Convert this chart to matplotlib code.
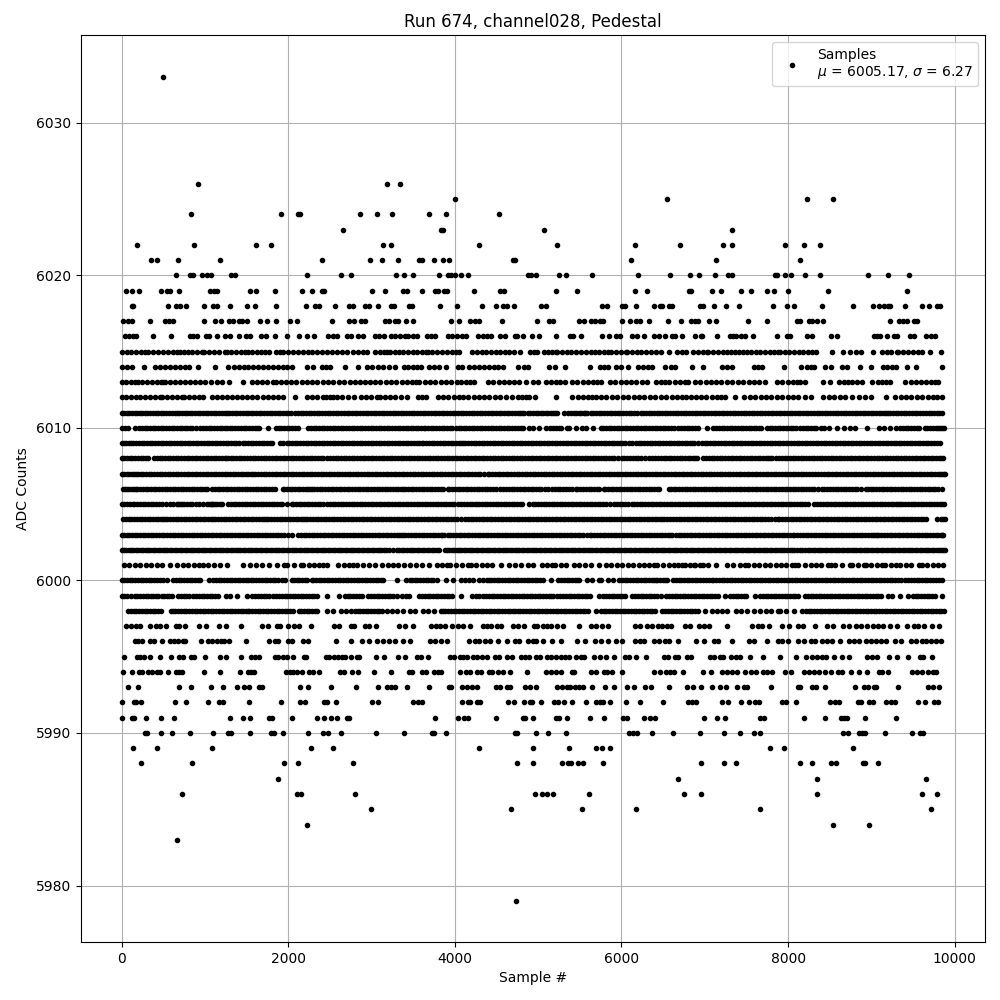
import matplotlib
matplotlib.use("Agg")
import matplotlib.pyplot as plt

# sample numbers, one list per ADC level
adc_6033 = [496]
adc_6026 = [920, 3188, 3344]
adc_6025 = [4000, 6552, 8224, 8536]
adc_6024 = [836, 1916, 2120, 2140, 2864, 3068, 3248, 3684, 3888, 4524]
adc_6023 = [2660, 3832, 3856, 5076, 7324]
adc_6022 = [188, 872, 1616, 1796, 3140, 3236, 4284, 5232, 6168, 6704, 7216, 7324, 7960, 8188, 8380]
adc_6021 = [356, 428, 680, 1184, 2408, 2984, 3128, 3320, 3564, 3600, 3744, 3852, 3924, 4692, 4716, 6120, 7132, 8140]
adc_6020 = [656, 820, 860, 968, 1028, 1076, 1316, 1364, 2228, 2636, 2756, 3296, 3388, 3492, 3804, 3912, 3948, 4000,
            4068, 4152, 4872, 4908, 4980, 5256, 5340, 5652, 6204, 6588, 6820, 6928, 7120, 7276, 7324, 7840, 7864,
            7960, 8032, 8200, 8380, 8956, 9196, 9448]
adc_6019 = [56, 120, 212, 476, 548, 584, 692, 1064, 1112, 1148, 1544, 1616, 1844, 2168, 2288, 2408, 2432, 3008, 3164,
            3376, 3420, 3600, 3756, 3792, 3864, 3900, 4224, 4536, 4584, 5220, 5472, 6164, 6312, 6808, 6832, 7084,
            7192, 7432, 7552, 7744, 7828, 7996, 8476, 9424]
adc_6018 = [120, 140, 560, 656, 704, 776, 992, 1100, 1148, 1304, 1508, 1604, 1856, 2216, 2324, 2372, 2564, 2732, 2780,
            2924, 2972, 3080, 3236, 3268, 3444, 3480, 3816, 4020, 4320, 4488, 4572, 4620, 4704, 5040, 5100, 5772,
            5832, 6012, 6048, 6180, 6396, 6468, 6492, 6576, 6612, 6940, 6976, 7108, 7252, 7408, 7816, 7984, 8068,
            8404, 8776, 9016, 9088, 9148, 9196, 9220, 9400, 9604, 9688, 9784, 9820]
adc_6017 = [20, 80, 120, 344, 524, 572, 620, 984, 1124, 1196, 1292, 1340, 1412, 1448, 1508, 1664, 1748, 1856, 2024,
            2108, 2528, 2732, 2792, 2876, 2920, 3164, 3212, 3284, 3320, 3408, 3492, 3948, 4044, 4176, 4236, 4284,
            4560, 4992, 5136, 5184, 5496, 5556, 5640, 5688, 5748, 5784, 6012, 6108, 6180, 6228, 6336, 6564, 6712,
            6832, 6880, 6916, 7048, 7132, 7516, 7744, 8104, 8140, 8248, 8284, 8344, 8416, 9220, 9328, 9376, 9424,
            9508, 9544]
adc_6016 = [44, 92, 140, 176, 380, 596, 824, 860, 908, 1016, 1052, 1140, 1244, 1304, 1412, 1496, 1540, 1676, 1736,
            1844, 1988, 2132, 2228, 2312, 2480, 2540, 2588, 2708, 2756, 2840, 2900, 3044, 3092, 3152, 3232, 3280,
            3340, 3400, 3432, 3492, 3540, 3660, 3708, 3756, 3912, 3960, 4020, 4080, 4128, 4272, 4332, 4380, 4428,
            4536, 4596, 4716, 4740, 4812, 4920, 5016, 5220, 5388, 5424, 5520, 5772, 5856, 5940, 5988, 6132, 6192,
            6276, 6396, 6456, 6528, 6612, 6648, 6724, 6880, 6952, 6964, 7144, 7300, 7336, 7372, 7432, 7480, 7576,
            7864, 7984, 8020, 8224, 8284, 8512, 8584, 9028, 9064, 9100, 9184, 9268, 9304, 9460, 9508, 9652, 9712,
            9760]
adc_6015 = [0, 62, 118, 176, 230, 280, 320, 380, 440, 498, 560, 612, 668, 700, 744, 792, 850, 905, 960, 992, 1050,
            1105, 1168, 1240, 1260, 1318, 1375, 1430, 1480, 1512, 1568, 1620, 1675, 1720, 1772, 1848, 1895, 1932,
            2000, 2060, 2120, 2180, 2235, 2290, 2350, 2410, 2465, 2520, 2582, 2640, 2700, 2780, 2840, 2895, 2948,
            3040, 3100, 3150, 3188, 3220, 3280, 3330, 3380, 3440, 3492, 3548, 3600, 3652, 3672, 3730, 3790, 3845,
            3905, 3960, 4012, 4044, 4204, 4260, 4320, 4378, 4430, 4490, 4545, 4600, 4655, 4712, 4776, 4904, 4950,
            4992, 5076, 5124, 5170, 5212, 5232, 5290, 5345, 5400, 5458, 5512, 5570, 5632, 5680, 5732, 5790, 5835,
            5872, 5932, 5990, 6052, 6072, 6130, 6185, 6240, 6300, 6355, 6410, 6472, 6572, 6672, 6722, 6772, 6864,
            6920, 6975, 7024, 7044, 7100, 7160, 7215, 7270, 7320, 7364, 7412, 7460, 7504, 7556, 7610, 7665, 7720,
            7780, 7830, 7884, 7904, 7960, 8015, 8070, 8130, 8185, 8240, 8290, 8332, 8528, 8660, 8740, 8812, 8872,
            9016, 9132, 9184, 9240, 9304, 9324, 9380, 9440, 9500, 9564, 9604, 9708, 9832]
adc_6014 = [0, 60, 120, 272, 400, 462, 520, 585, 640, 700, 755, 812, 912, 1124, 1280, 1348, 1405, 1465, 1520, 1582,
            1640, 1700, 1760, 1820, 1880, 1940, 1980, 2040, 2228, 2300, 2400, 2452, 2500, 2684, 2840, 2948, 3010,
            3075, 3140, 3212, 3280, 3384, 3440, 3500, 3550, 3592, 3684, 3750, 3812, 3888, 4032, 4080, 4172, 4232,
            4290, 4352, 4410, 4465, 4512, 4572, 4752, 4824, 4872, 5136, 5208, 5328, 5628, 5748, 5792, 5844, 5932,
            5992, 6084, 6204, 6262, 6320, 6372, 6528, 6590, 6644, 6844, 6976, 7204, 7265, 7324, 7588, 7640, 7684,
            7948, 8152, 8224, 8270, 8316, 8440, 8512, 8644, 8704, 8860, 8992, 9136, 9190, 9244, 9292, 9424, 9532,
            9844]
adc_6013 = [0, 58, 115, 160, 200, 240, 300, 360, 425, 470, 500, 520, 580, 640, 700, 760, 820, 880, 945, 1000, 1075,
            1140, 1208, 1292, 1456, 1560, 1625, 1690, 1750, 1812, 1848, 1910, 1970, 2035, 2095, 2160, 2220, 2285,
            2345, 2420, 2480, 2540, 2610, 2670, 2740, 2800, 2860, 2920, 2980, 3045, 3105, 3170, 3235, 3295, 3360,
            3420, 3480, 3532, 3572, 3640, 3700, 3765, 3830, 3890, 3955, 4020, 4075, 4132, 4180, 4232, 4392, 4460,
            4525, 4590, 4655, 4712, 4772, 4852, 4932, 5004, 5092, 5150, 5210, 5264, 5328, 5412, 5472, 5535, 5600,
            5660, 5710, 5752, 5860, 5925, 5990, 6050, 6115, 6180, 6250, 6312, 6412, 6470, 6525, 6572, 6644, 6700,
            6760, 6804, 6884, 6945, 7010, 7075, 7140, 7200, 7265, 7330, 7395, 7460, 7525, 7590, 7655, 7724, 7864,
            7930, 7995, 8060, 8105, 8144, 8200, 8424, 8504, 8612, 8670, 8724, 8764, 8824, 8884, 9012, 9075, 9130,
            9180, 9224, 9404, 9470, 9535, 9600, 9660, 9720, 9765, 9804]
adc_6012 = [0, 55, 112, 170, 225, 280, 340, 400, 460, 480, 540, 600, 660, 720, 748, 810, 870, 925, 972, 1080, 1140,
            1200, 1265, 1325, 1385, 1445, 1510, 1570, 1630, 1695, 1755, 1815, 1880, 1940, 2084, 2220, 2285, 2350,
            2420, 2452, 2500, 2540, 2580, 2650, 2720, 2792, 2868, 2930, 2995, 3060, 3100, 3160, 3220, 3285, 3350,
            3420, 3552, 3605, 3652, 3792, 3855, 3920, 3985, 4045, 4100, 4152, 4224, 4285, 4350, 4415, 4480, 4545,
            4610, 4680, 4752, 4800, 4850, 4892, 4964, 5220, 5412, 5475, 5540, 5600, 5652, 5692, 5755, 5820, 5885,
            5950, 6015, 6080, 6145, 6210, 6275, 6340, 6405, 6470, 6540, 6612, 6672, 6732, 6780, 6840, 6900, 6960,
            7020, 7085, 7150, 7200, 7244, 7364, 7476, 7540, 7605, 7670, 7735, 7800, 7865, 7930, 7995, 8060, 8125,
            8200, 8276, 8424, 8490, 8555, 8620, 8684, 8764, 8852, 8925, 8996, 9172, 9284, 9350, 9415, 9480, 9545,
            9610, 9675, 9735, 9790, 9844]
adc_6011 = [0, 60, 125, 185, 250, 310, 375, 440, 500, 565, 640, 660, 725, 785, 850, 915, 975, 1040, 1105, 1170, 1240,
            1260, 1325, 1390, 1455, 1520, 1580, 1645, 1710, 1775, 1840, 1905, 1970, 2035, 2120, 2180, 2245, 2310,
            2375, 2440, 2505, 2570, 2635, 2700, 2765, 2830, 2895, 2960, 3025, 3090, 3155, 3220, 3285, 3350, 3415,
            3480, 3540, 3580, 3612, 3680, 3745, 3810, 3875, 3940, 4005, 4070, 4135, 4200, 4265, 4330, 4395, 4460,
            4525, 4590, 4655, 4720, 4785, 4832, 4872, 4940, 5000, 5060, 5120, 5180, 5232, 5312, 5364, 5425, 5490,
            5545, 5592, 5632, 5695, 5760, 5825, 5890, 5955, 6020, 6085, 6150, 6232, 6260, 6325, 6390, 6455, 6520,
            6585, 6650, 6715, 6780, 6845, 6910, 6975, 7040, 7105, 7170, 7235, 7304, 7336, 7400, 7465, 7530, 7595,
            7660, 7725, 7790, 7855, 7920, 7985, 8050, 8115, 8180, 8245, 8310, 8375, 8440, 8505, 8570, 8635, 8700,
            8765, 8830, 8895, 8960, 9025, 9090, 9150, 9204, 9224, 9290, 9355, 9420, 9485, 9550, 9624, 9652, 9720,
            9785, 9844]
adc_6010 = [0, 40, 80, 164, 212, 275, 340, 405, 470, 535, 600, 665, 730, 780, 820, 848, 895, 940, 980, 1045, 1110,
            1175, 1240, 1300, 1360, 1400, 1465, 1530, 1595, 1652, 1752, 1852, 1915, 1980, 2045, 2120, 2240, 2305,
            2370, 2435, 2500, 2565, 2630, 2695, 2760, 2825, 2890, 2955, 3020, 3085, 3150, 3215, 3280, 3345, 3410,
            3470, 3535, 3590, 3632, 3644, 3710, 3775, 3840, 3905, 3970, 4044, 4072, 4135, 4200, 4265, 4330, 4395,
            4460, 4525, 4590, 4655, 4720, 4792, 4812, 4892, 4932, 5010, 5092, 5144, 5210, 5280, 5352, 5372, 5450,
            5532, 5572, 5660, 5752, 5780, 5845, 5910, 5975, 6040, 6105, 6170, 6235, 6300, 6365, 6430, 6495, 6560,
            6632, 6684, 6750, 6815, 6880, 6924, 7024, 7104, 7170, 7235, 7300, 7365, 7430, 7495, 7560, 7620, 7676,
            7744, 7810, 7875, 7940, 8005, 8064, 8092, 8144, 8210, 8275, 8340, 8390, 8436, 8496, 8584, 8672, 8740,
            8804, 8944, 9092, 9156, 9225, 9292, 9344, 9410, 9475, 9544, 9572, 9640, 9705, 9770, 9825, 9876]
adc_6009 = [10, 50, 92, 108, 175, 240, 305, 370, 435, 500, 565, 630, 695, 760, 825, 890, 955, 1020, 1085, 1150, 1215,
            1280, 1345, 1410, 1452, 1484, 1550, 1615, 1680, 1745, 1810, 1900, 1940, 1980, 2045, 2110, 2175, 2240,
            2305, 2370, 2435, 2500, 2565, 2630, 2695, 2760, 2825, 2890, 2955, 3020, 3085, 3150, 3215, 3280, 3345,
            3410, 3475, 3540, 3604, 3620, 3690, 3755, 3820, 3885, 3950, 4015, 4072, 4092, 4160, 4225, 4290, 4355,
            4420, 4485, 4550, 4615, 4680, 4745, 4810, 4875, 4940, 5005, 5070, 5135, 5200, 5265, 5330, 5395, 5460,
            5525, 5590, 5655, 5720, 5785, 5850, 5915, 5980, 6045, 6132, 6172, 6240, 6305, 6370, 6435, 6500, 6565,
            6630, 6695, 6760, 6825, 6876, 6924, 6964, 7030, 7095, 7160, 7225, 7290, 7355, 7420, 7485, 7550, 7615,
            7680, 7745, 7810, 7875, 7940, 8005, 8070, 8135, 8200, 8265, 8330, 8395, 8460, 8525, 8590, 8655, 8720,
            8784, 8812, 8880, 8945, 9010, 9075, 9140, 9205, 9270, 9332, 9356, 9425, 9490, 9555, 9620, 9685, 9750,
            9824]
adc_6008 = [0, 65, 130, 195, 260, 320, 392, 455, 520, 585, 650, 715, 780, 845, 910, 975, 1040, 1105, 1170, 1235,
            1280, 1340, 1405, 1470, 1540, 1572, 1640, 1705, 1770, 1835, 1900, 1965, 2030, 2095, 2160, 2225, 2290,
            2355, 2420, 2468, 2535, 2600, 2665, 2730, 2795, 2860, 2925, 2990, 3055, 3120, 3185, 3250, 3315, 3380,
            3445, 3510, 3575, 3640, 3705, 3770, 3835, 3900, 3965, 4030, 4095, 4160, 4225, 4290, 4355, 4420, 4485,
            4550, 4615, 4680, 4745, 4810, 4875, 4940, 5005, 5070, 5135, 5200, 5265, 5330, 5395, 5460, 5525, 5590,
            5655, 5720, 5785, 5850, 5915, 6004, 6036, 6105, 6170, 6235, 6332, 6364, 6440, 6505, 6572, 6596, 6665,
            6730, 6795, 6860, 6904, 6984, 7050, 7115, 7180, 7245, 7310, 7375, 7440, 7505, 7570, 7635, 7700, 7760,
            7804, 7856, 7925, 7990, 8055, 8120, 8185, 8250, 8315, 8380, 8445, 8510, 8575, 8640, 8705, 8770, 8835,
            8900, 8965, 9030, 9095, 9160, 9225, 9290, 9355, 9420, 9485, 9550, 9615, 9680, 9745, 9810, 9864]
adc_6007 = [0, 60, 120, 175, 228, 260, 325, 390, 455, 520, 585, 650, 715, 780, 845, 910, 975, 1040, 1105, 1170, 1235,
            1300, 1365, 1430, 1495, 1548, 1572, 1640, 1705, 1770, 1835, 1900, 1965, 2030, 2095, 2160, 2225, 2290,
            2355, 2420, 2485, 2550, 2615, 2680, 2745, 2810, 2875, 2940, 3005, 3070, 3135, 3200, 3265, 3330, 3395,
            3460, 3525, 3590, 3655, 3720, 3785, 3850, 3915, 3980, 4045, 4110, 4175, 4240, 4305, 4392, 4412, 4480,
            4545, 4610, 4675, 4740, 4805, 4870, 4935, 5000, 5065, 5130, 5195, 5260, 5325, 5390, 5455, 5520, 5585,
            5650, 5715, 5780, 5845, 5910, 5975, 6040, 6105, 6170, 6235, 6300, 6365, 6430, 6495, 6560, 6625, 6690,
            6755, 6820, 6885, 6950, 7015, 7080, 7145, 7210, 7275, 7340, 7405, 7470, 7535, 7600, 7665, 7730, 7795,
            7860, 7925, 7990, 8055, 8120, 8185, 8250, 8324, 8364, 8430, 8495, 8560, 8625, 8690, 8755, 8820, 8885,
            8950, 9015, 9080, 9145, 9210, 9275, 9340, 9405, 9470, 9535, 9600, 9665, 9730, 9795, 9850, 9884]
adc_6006 = [12, 60, 120, 172, 188, 255, 320, 385, 450, 515, 580, 645, 710, 775, 840, 905, 970, 1030, 1080, 1120, 1185,
            1250, 1315, 1380, 1445, 1510, 1575, 1640, 1705, 1770, 1835, 1932, 1948, 2015, 2080, 2145, 2210, 2260,
            2280, 2345, 2410, 2475, 2540, 2605, 2670, 2735, 2800, 2865, 2930, 2995, 3060, 3125, 3190, 3255, 3320,
            3380, 3404, 3470, 3535, 3600, 3665, 3730, 3795, 3860, 3912, 3932, 4000, 4065, 4130, 4195, 4260, 4325,
            4390, 4455, 4540, 4580, 4650, 4715, 4780, 4845, 4910, 4975, 5040, 5124, 5164, 5235, 5300, 5365, 5452,
            5472, 5540, 5605, 5670, 5735, 5792, 5804, 5870, 5935, 6000, 6065, 6130, 6195, 6260, 6325, 6390, 6455,
            6572, 6592, 6660, 6725, 6790, 6855, 6920, 6985, 7050, 7124, 7144, 7210, 7275, 7340, 7405, 7470, 7535,
            7600, 7665, 7730, 7795, 7860, 7925, 7990, 8055, 8120, 8185, 8250, 8315, 8404, 8436, 8505, 8570, 8635,
            8700, 8765, 8830, 8932, 8956, 9025, 9090, 9155, 9220, 9285, 9350, 9415, 9480, 9545, 9610, 9675, 9740,
            9796, 9852]
adc_6005 = [0, 65, 132, 152, 220, 285, 350, 415, 480, 580, 612, 660, 700, 720, 785, 850, 928, 972, 1020, 1068, 1100,
            1150, 1200, 1280, 1345, 1410, 1475, 1540, 1605, 1670, 1735, 1800, 1865, 1930, 2040, 2060, 2125, 2190,
            2255, 2320, 2385, 2460, 2500, 2565, 2630, 2695, 2760, 2825, 2890, 2955, 3020, 3085, 3150, 3215, 3280,
            3345, 3410, 3475, 3540, 3605, 3670, 3735, 3800, 3865, 3930, 3995, 4072, 4112, 4180, 4240, 4292, 4324,
            4390, 4455, 4520, 4585, 4650, 4715, 4780, 4804, 4892, 4932, 5000, 5065, 5130, 5195, 5260, 5325, 5390,
            5455, 5520, 5585, 5650, 5715, 5780, 5860, 5912, 5980, 6045, 6124, 6152, 6220, 6285, 6350, 6415, 6480,
            6545, 6610, 6675, 6740, 6805, 6870, 6935, 7000, 7065, 7130, 7195, 7260, 7325, 7390, 7455, 7520, 7585,
            7650, 7715, 7780, 7845, 7910, 7975, 8040, 8105, 8170, 8236, 8316, 8385, 8450, 8515, 8580, 8645, 8710,
            8775, 8840, 8905, 8970, 9035, 9100, 9165, 9230, 9295, 9344, 9372, 9440, 9504, 9524, 9590, 9655, 9720,
            9785, 9850, 9876]
adc_6004 = [20, 85, 150, 215, 280, 345, 410, 470, 520, 548, 615, 680, 745, 810, 875, 940, 1005, 1068, 1092, 1160,
            1225, 1290, 1355, 1420, 1485, 1550, 1615, 1680, 1732, 1760, 1830, 1895, 1960, 2025, 2090, 2150, 2200,
            2228, 2295, 2360, 2425, 2490, 2555, 2620, 2685, 2750, 2815, 2880, 2945, 3010, 3075, 3140, 3205, 3270,
            3335, 3400, 3465, 3530, 3595, 3660, 3725, 3790, 3855, 3920, 3985, 4072, 4120, 4190, 4255, 4320, 4385,
            4450, 4515, 4580, 4645, 4710, 4775, 4840, 4905, 4970, 5035, 5100, 5165, 5230, 5295, 5360, 5425, 5490,
            5555, 5620, 5685, 5750, 5815, 5880, 5945, 6010, 6075, 6140, 6205, 6270, 6335, 6400, 6460, 6512, 6552,
            6620, 6685, 6750, 6815, 6880, 6945, 7010, 7075, 7140, 7205, 7270, 7335, 7400, 7465, 7530, 7595, 7660,
            7725, 7790, 7884, 7896, 7965, 8030, 8095, 8160, 8225, 8290, 8355, 8420, 8485, 8550, 8615, 8680, 8745,
            8810, 8875, 8940, 9005, 9070, 9135, 9200, 9265, 9330, 9395, 9460, 9525, 9590, 9652, 9784, 9835, 9884]
adc_6003 = [0, 60, 88, 155, 220, 285, 350, 415, 480, 545, 612, 644, 710, 775, 840, 905, 970, 1035, 1100, 1165, 1230,
            1295, 1360, 1425, 1490, 1555, 1620, 1685, 1750, 1815, 1880, 1945, 2040, 2120, 2185, 2250, 2315, 2380,
            2445, 2510, 2575, 2640, 2705, 2780, 2800, 2870, 2935, 3000, 3072, 3100, 3170, 3235, 3300, 3348, 3372,
            3440, 3505, 3570, 3635, 3700, 3765, 3830, 3872, 3912, 3980, 4045, 4110, 4175, 4240, 4305, 4370, 4435,
            4500, 4565, 4630, 4695, 4760, 4825, 4890, 4955, 5020, 5085, 5150, 5215, 5280, 5345, 5410, 5475, 5540,
            5624, 5640, 5710, 5775, 5840, 5905, 5970, 6035, 6100, 6165, 6230, 6295, 6360, 6425, 6490, 6555, 6612,
            6652, 6720, 6785, 6850, 6915, 6980, 7045, 7110, 7175, 7240, 7305, 7370, 7435, 7500, 7565, 7630, 7695,
            7760, 7825, 7890, 7955, 8020, 8064, 8076, 8145, 8210, 8275, 8340, 8405, 8470, 8535, 8600, 8665, 8730,
            8795, 8860, 8925, 8990, 9040, 9084, 9116, 9185, 9250, 9315, 9380, 9445, 9510, 9575, 9640, 9705, 9770,
            9830, 9864]
adc_6002 = [0, 55, 115, 170, 230, 290, 345, 405, 465, 520, 580, 640, 695, 755, 815, 870, 930, 990, 1045, 1105, 1165,
            1220, 1280, 1340, 1395, 1455, 1515, 1570, 1630, 1690, 1745, 1805, 1865, 1920, 1980, 2040, 2095, 2155,
            2215, 2270, 2330, 2390, 2445, 2505, 2565, 2620, 2680, 2740, 2795, 2855, 2915, 2970, 3030, 3090, 3145,
            3205, 3300, 3332, 3395, 3460, 3515, 3575, 3635, 3690, 3750, 3810, 3884, 3900, 3960, 4020, 4075, 4135,
            4195, 4250, 4310, 4370, 4425, 4485, 4545, 4600, 4660, 4720, 4775, 4835, 4895, 4950, 5010, 5070, 5125,
            5185, 5245, 5300, 5360, 5420, 5475, 5535, 5595, 5650, 5710, 5770, 5825, 5885, 5945, 6000, 6060, 6120,
            6175, 6235, 6295, 6350, 6410, 6470, 6525, 6585, 6645, 6700, 6760, 6820, 6875, 6935, 6995, 7050, 7110,
            7170, 7225, 7285, 7345, 7400, 7460, 7520, 7575, 7635, 7695, 7750, 7810, 7870, 7925, 7985, 8024, 8044,
            8105, 8170, 8244, 8264, 8325, 8385, 8440, 8500, 8560, 8615, 8675, 8735, 8790, 8850, 8910, 8965, 9025,
            9085, 9140, 9200, 9260, 9315, 9375, 9435, 9490, 9550, 9610, 9665, 9725, 9785, 9840, 9884]
adc_6001 = [32, 92, 160, 225, 290, 355, 420, 485, 580, 668, 735, 800, 865, 925, 980, 1040, 1110, 1185, 1260, 1460,
            1535, 1612, 1680, 1772, 1860, 1948, 1988, 2070, 2148, 2180, 2245, 2310, 2370, 2420, 2460, 2600, 2665,
            2725, 2780, 2828, 2895, 2965, 3040, 3120, 3200, 3252, 3320, 3385, 3460, 3532, 3610, 3684, 3780, 3840,
            3904, 3940, 4010, 4080, 4152, 4188, 4252, 4320, 4385, 4450, 4552, 4644, 4720, 4795, 4872, 4932, 5052,
            5110, 5164, 5204, 5270, 5340, 5432, 5496, 5560, 5640, 5732, 5812, 5880, 5945, 6010, 6075, 6140, 6205,
            6270, 6335, 6392, 6432, 6500, 6565, 6630, 6680, 6724, 6764, 6820, 6872, 6884, 6940, 6984, 7044, 7132,
            7264, 7340, 7424, 7480, 7524, 7590, 7655, 7720, 7785, 7850, 7915, 7980, 8045, 8084, 8124, 8204, 8270,
            8335, 8400, 8484, 8516, 8564, 8650, 8744, 8764, 8840, 8916, 8932, 9000, 9065, 9124, 9164, 9230, 9292,
            9344, 9410, 9475, 9572, 9604, 9670, 9735, 9800, 9864]
adc_6000 = [0, 65, 130, 195, 260, 325, 390, 455, 548, 620, 685, 750, 815, 880, 945, 1048, 1100, 1165, 1230, 1295,
            1360, 1425, 1490, 1548, 1580, 1650, 1715, 1780, 1845, 1920, 1960, 2044, 2100, 2165, 2230, 2280, 2300,
            2365, 2430, 2495, 2560, 2625, 2690, 2755, 2820, 2885, 2950, 3015, 3080, 3140, 3300, 3412, 3460, 3484,
            3550, 3615, 3680, 3740, 3780, 3892, 3980, 4072, 4125, 4172, 4212, 4284, 4335, 4380, 4404, 4470, 4535,
            4600, 4665, 4730, 4795, 4860, 4925, 4990, 5055, 5152, 5244, 5310, 5375, 5440, 5492, 5592, 5652, 5732,
            5752, 5844, 5904, 5972, 6040, 6105, 6170, 6235, 6300, 6365, 6412, 6432, 6500, 6544, 6620, 6685, 6750,
            6815, 6880, 6945, 7010, 7084, 7104, 7170, 7235, 7300, 7365, 7430, 7495, 7560, 7625, 7690, 7755, 7820,
            7885, 7950, 8015, 8080, 8145, 8210, 8275, 8340, 8405, 8470, 8535, 8600, 8665, 8730, 8795, 8860, 8925,
            8990, 9055, 9120, 9185, 9250, 9315, 9404, 9444, 9510, 9575, 9640, 9705, 9770, 9844]
adc_5999 = [0, 60, 110, 160, 188, 255, 320, 380, 440, 480, 540, 600, 680, 745, 810, 852, 892, 960, 1025, 1090, 1155,
            1252, 1300, 1388, 1500, 1570, 1640, 1705, 1772, 1820, 1890, 1955, 2020, 2085, 2150, 2215, 2280, 2345,
            2460, 2612, 2680, 2745, 2810, 2880, 2960, 3030, 3095, 3160, 3225, 3300, 3360, 3410, 3444, 3572, 3640,
            3705, 3770, 3835, 3900, 3965, 4072, 4204, 4250, 4292, 4340, 4410, 4475, 4540, 4605, 4670, 4735, 4800,
            4865, 4930, 4995, 5060, 5125, 5180, 5232, 5300, 5365, 5430, 5495, 5560, 5625, 5732, 5780, 5850, 5915,
            5980, 6045, 6132, 6164, 6230, 6295, 6360, 6425, 6472, 6540, 6605, 6670, 6735, 6800, 6865, 6930, 6995,
            7060, 7125, 7164, 7244, 7304, 7370, 7435, 7500, 7604, 7664, 7730, 7795, 7860, 7925, 7990, 8055, 8124,
            8204, 8270, 8335, 8400, 8465, 8530, 8595, 8660, 8725, 8790, 8855, 8920, 8985, 9050, 9115, 9204, 9252,
            9344, 9436, 9496, 9565, 9630, 9695, 9760, 9852]
adc_5998 = [80, 145, 210, 275, 340, 405, 470, 588, 612, 680, 745, 810, 875, 940, 1005, 1070, 1135, 1200, 1265, 1330,
            1395, 1460, 1520, 1532, 1600, 1665, 1730, 1795, 1860, 1925, 1990, 2055, 2132, 2152, 2220, 2285, 2350,
            2460, 2532, 2628, 2690, 2748, 2800, 2865, 2930, 2995, 3060, 3125, 3180, 3240, 3310, 3375, 3460, 3524,
            3612, 3680, 3745, 3832, 3852, 3920, 3985, 4050, 4115, 4180, 4245, 4310, 4372, 4404, 4470, 4535, 4600,
            4665, 4724, 4752, 4820, 4885, 4950, 5015, 5080, 5145, 5210, 5275, 5340, 5405, 5470, 5535, 5600, 5692,
            5752, 5820, 5885, 5950, 6015, 6080, 6145, 6210, 6275, 6340, 6405, 6492, 6520, 6590, 6655, 6720, 6785,
            6850, 6915, 7004, 7084, 7150, 7212, 7268, 7372, 7440, 7505, 7596, 7664, 7730, 7795, 7884, 7904, 7975,
            8076, 8164, 8212, 8280, 8345, 8410, 8475, 8540, 8605, 8670, 8735, 8800, 8865, 8930, 8995, 9060, 9125,
            9190, 9255, 9320, 9385, 9450, 9515, 9580, 9645, 9710, 9775, 9840, 9876]
adc_5997 = [56, 116, 176, 224, 344, 416, 464, 536, 656, 692, 764, 932, 1016, 1172, 1256, 1436, 1688, 1760, 1868, 1904,
            2000, 2072, 2132, 2276, 2552, 2612, 2756, 2792, 2924, 2972, 3056, 3332, 3396, 3492, 3708, 3768, 3816,
            3876, 3960, 4032, 4092, 4176, 4332, 4380, 4428, 4500, 4548, 4692, 4752, 4824, 4956, 4992, 5064, 5112,
            5160, 5232, 5304, 5488, 5640, 5700, 5772, 5844, 6168, 6228, 6312, 6372, 6444, 6492, 6552, 6600, 6760,
            6820, 6928, 6988, 7048, 7264, 7564, 7636, 7684, 7768, 7924, 8008, 8116, 8176, 8320, 8464, 8536, 8656,
            8728, 8812, 8872, 8944, 9016, 9076, 9136, 9220, 9304, 9424, 9508, 9556, 9636, 9724, 9816]
adc_5996 = [164, 200, 248, 344, 392, 488, 584, 632, 680, 740, 764, 956, 1040, 1088, 1148, 1196, 1232, 1292, 1496, 1772,
            1844, 1880, 2000, 2048, 2180, 2240, 2576, 2756, 2888, 2972, 3068, 3140, 3212, 3284, 3372, 3456, 3704,
            3756, 3828, 3900, 4164, 4236, 4284, 4356, 4416, 4512, 4620, 4716, 4764, 4872, 4932, 4980, 5064, 5172,
            5280, 5472, 5568, 5688, 5760, 5836, 5940, 6012, 6164, 6224, 6272, 6396, 6456, 6528, 6576, 6684, 6892,
            6996, 7108, 7156, 7324, 7528, 7588, 7744, 7876, 7924, 7996, 8116, 8188, 8272, 8320, 8404, 8464, 8524,
            8620, 8728, 8788, 8848, 8932, 8992, 9052, 9112, 9172, 9280, 9352, 9472, 9532, 9604, 9652, 9712, 9772,
            9832]
adc_5995 = [32, 188, 224, 272, 344, 464, 596, 692, 740, 836, 872, 1004, 1184, 1256, 1436, 1556, 1604, 1652, 1844, 1880,
            1940, 1988, 2060, 2192, 2216, 2456, 2492, 2552, 2600, 2648, 2684, 2756, 2828, 2852, 3056, 3152, 3320,
            3396, 3540, 3588, 3672, 3936, 3984, 4056, 4092, 4144, 4212, 4260, 4320, 4380, 4476, 4524, 4620, 4680,
            4788, 4836, 4884, 4980, 5028, 5112, 5160, 5220, 5280, 5328, 5376, 5460, 5520, 5556, 5676, 5748, 5820,
            5912, 6048, 6096, 6180, 6300, 6516, 6564, 6648, 6684, 6784, 6832, 7060, 7108, 7180, 7216, 7312, 7372,
            7420, 7540, 7696, 7900, 8092, 8212, 8284, 8344, 8404, 8452, 8548, 8644, 8728, 8944, 9004, 9064, 9208,
            9304, 9436, 9580, 9616, 9724]
adc_5994 = [20, 128, 212, 248, 320, 368, 428, 464, 560, 656, 692, 728, 992, 1184, 1424, 1520, 1556, 1592, 1972, 2020,
            2060, 2108, 2168, 2248, 2300, 2372, 2624, 2672, 2768, 2840, 3032, 3236, 3444, 3480, 3600, 3648, 3744,
            3792, 3828, 4056, 4128, 4176, 4260, 4308, 4404, 4440, 4512, 4572, 4656, 4860, 5100, 5160, 5220, 5280,
            5412, 5436, 5640, 5700, 5796, 5832, 5892, 6012, 6396, 6468, 6540, 6588, 6636, 6736, 6976, 7072, 7204,
            7264, 7324, 7384, 7480, 7552, 7612, 7696, 7744, 7804, 7960, 8032, 8188, 8248, 8308, 8368, 8440, 8512,
            8596, 8644, 8752, 8848, 8944, 9088, 9124, 9196, 9484, 9544, 9604, 9676, 9736, 9772]
adc_5993 = [80, 200, 692, 836, 1076, 1220, 1388, 1472, 1532, 1652, 1688, 2144, 2240, 2516, 2816, 3080, 3188, 3236, 3284,
            3420, 3684, 3924, 3948, 4080, 4140, 4200, 4260, 4488, 4536, 4620, 4656, 4836, 4896, 4980, 5232, 5292,
            5352, 5388, 5448, 5496, 5544, 5652, 5808, 5916, 6072, 6156, 6288, 6360, 6576, 6784, 6856, 6952, 7084,
            7180, 7252, 7384, 7468, 7504, 7792, 8116, 8140, 8284, 8332, 8440, 8800, 8908, 8956, 9028, 9050, 9316,
            9676, 9736, 9808]
adc_5992 = [0, 152, 176, 236, 644, 776, 1040, 1172, 1212, 1532, 1916, 2144, 2204, 2432, 2468, 2576, 3008, 3080, 3492,
            3552, 3600, 4080, 4152, 4176, 4260, 4296, 4632, 4704, 4824, 4896, 4920, 5040, 5196, 5244, 5316, 5412,
            5580, 5700, 5748, 5784, 5868, 6060, 6228, 6504, 6796, 6844, 6892, 7204, 7276, 7432, 7528, 7600, 7648,
            7924, 7972, 8092, 8500, 8560, 8608, 8836, 8872, 8968, 9016, 9172, 9232, 9280, 9556, 9640, 9748, 9796]
adc_5991 = [8, 120, 152, 296, 476, 632, 1304, 1460, 1544, 1772, 1804, 2048, 2348, 2432, 2516, 2580, 2708, 2732, 3756,
            4032, 4104, 4152, 4488, 4812, 4836, 4944, 5220, 5256, 5352, 5628, 5796, 6024, 6072, 6276, 6348, 6408,
            6988, 7144, 7240, 7660, 7708, 8188, 8440, 8632, 8668, 8704, 8920, 9292]
adc_5990 = [280, 308, 476, 608, 824, 1100, 1280, 1316, 1544, 1796, 1832, 1940, 2240, 2420, 2480, 2636, 3056, 3390, 3720,
            3744, 3888, 4716, 4740, 4980, 5124, 5340, 6096, 6144, 6192, 6372, 6624, 6940, 7228, 7420, 7588, 7660,
            8656, 8716, 8848, 8884, 8920, 9160, 9484, 9580, 9616]
adc_5989 = [140, 428, 1088, 2276, 2540, 4284, 4932, 5376, 5700, 5772, 5868, 7780, 7948, 8776]
adc_5988 = [236, 848, 1952, 2120, 2780, 4740, 4932, 5292, 5364, 5400, 5484, 5544, 5784, 6952, 7228, 7372, 8140, 8284,
            8512, 8572, 8896, 8920, 9076]
adc_5987 = [1880, 6684, 8344, 9652]
adc_5986 = [728, 2108, 2156, 2804, 4968, 5052, 5112, 5184, 5616, 6756, 6952, 8344, 9604, 9784]
adc_5985 = [2996, 4668, 5532, 6180, 7660, 9712]
adc_5984 = [2228, 8536, 8968]
adc_5983 = [668]
adc_5979 = [4736]

# more samples inside the solid stretches of the busiest levels
more_6011 = [30, 92, 155, 218, 280, 342, 408, 470, 532, 600, 692, 755, 818, 882, 945, 1008, 1072, 1138, 1205, 1292,
             1358, 1422, 1488, 1550, 1612, 1678, 1742, 1808, 1872, 1938, 2002, 2078, 2150, 2212, 2278, 2342, 2408,
             2472, 2538, 2602, 2668, 2732, 2798, 2862, 2928, 2992, 3058, 3122, 3188, 3252, 3318, 3382, 3448, 3510,
             3646, 3712, 3778, 3842, 3908, 3972, 4038, 4102, 4168, 4232, 4298, 4362, 4428, 4492, 4558, 4622, 4688,
             4752, 4808, 4906, 4970, 5030, 5090, 5150, 5206, 5394, 5458, 5518, 5568, 5664, 5728, 5792, 5858, 5922,
             5988, 6052, 6118, 6190, 6292, 6358, 6422, 6488, 6552, 6618, 6682, 6748, 6812, 6878, 6942, 7008, 7072,
             7138, 7202, 7270, 7368, 7432, 7498, 7562, 7628, 7692, 7758, 7822, 7888, 7952, 8018, 8082, 8148, 8212,
             8278, 8342, 8408, 8472, 8538, 8602, 8668, 8732, 8798, 8862, 8928, 8992, 9058, 9120, 9178, 9258, 9322,
             9388, 9452, 9518, 9586, 9686, 9752, 9815]
more_6010 = [244, 308, 372, 438, 502, 568, 632, 698, 755, 1012, 1078, 1142, 1208, 1270, 1330, 1432, 1498, 1562, 1624,
             1884, 1948, 2012, 2082, 2272, 2338, 2402, 2468, 2532, 2598, 2662, 2728, 2792, 2858, 2922, 2988, 3052,
             3118, 3182, 3248, 3312, 3378, 3440, 3502, 3562, 3678, 3742, 3808, 3872, 3938, 4008, 4104, 4168, 4232,
             4298, 4362, 4428, 4492, 4558, 4622, 4688, 4756, 5178, 5246, 5816, 5878, 5942, 6008, 6072, 6138, 6202,
             6268, 6332, 6398, 6462, 6528, 6596, 6718, 6782, 6848, 7138, 7202, 7268, 7332, 7398, 7462, 7528, 7590,
             7648, 7778, 7842, 7908, 7972, 8036, 8178, 8242, 8308, 9384, 9442, 9510, 9672, 9738, 9798, 9850]
more_6009 = [30, 142, 208, 272, 338, 402, 468, 532, 598, 662, 728, 792, 858, 922, 988, 1052, 1118, 1182, 1248, 1312,
             1378, 1518, 1582, 1648, 1712, 1778, 2012, 2078, 2142, 2208, 2272, 2338, 2402, 2468, 2532, 2598, 2662,
             2728, 2792, 2858, 2922, 2988, 3052, 3118, 3182, 3248, 3312, 3378, 3442, 3508, 3572, 3655, 3722, 3788,
             3852, 3918, 3982, 4044, 4126, 4192, 4258, 4322, 4388, 4452, 4518, 4582, 4648, 4712, 4778, 4842, 4908,
             4972, 5038, 5102, 5168, 5232, 5298, 5362, 5428, 5492, 5558, 5622, 5688, 5752, 5818, 5882, 5948, 6012,
             6088, 6206, 6272, 6338, 6402, 6468, 6532, 6598, 6662, 6728, 6792, 6850, 6998, 7062, 7128, 7192, 7258,
             7322, 7388, 7452, 7518, 7582, 7648, 7712, 7778, 7842, 7908, 7972, 8038, 8102, 8168, 8232, 8298, 8362,
             8428, 8492, 8558, 8622, 8688, 8752, 8846, 8912, 8978, 9042, 9108, 9172, 9238, 9300, 9390, 9458, 9522,
             9588, 9652, 9718, 9785]
more_6008 = [32, 98, 162, 228, 290, 424, 488, 552, 618, 682, 748, 812, 878, 942, 1008, 1072, 1138, 1202, 1258, 1310,
             1372, 1438, 1505, 1606, 1672, 1738, 1802, 1868, 1932, 1998, 2062, 2128, 2192, 2258, 2322, 2388, 2502,
             2568, 2632, 2698, 2762, 2828, 2892, 2958, 3022, 3088, 3152, 3218, 3282, 3348, 3412, 3478, 3542, 3608,
             3672, 3738, 3802, 3868, 3932, 3998, 4062, 4128, 4192, 4258, 4322, 4388, 4452, 4518, 4582, 4648, 4712,
             4778, 4842, 4908, 4972, 5038, 5102, 5168, 5232, 5298, 5362, 5428, 5492, 5558, 5622, 5688, 5752, 5818,
             5882, 5960, 6070, 6138, 6202, 6284, 6402, 6472, 6538, 6630, 6698, 6762, 6828, 6882, 7018, 7082, 7148,
             7212, 7278, 7342, 7408, 7472, 7538, 7602, 7668, 7730, 7782, 7890, 7958, 8022, 8088, 8152, 8218, 8282,
             8348, 8412, 8478, 8542, 8608, 8672, 8738, 8802, 8868, 8932, 8998, 9062, 9128, 9192, 9258, 9322, 9388,
             9452, 9518, 9582, 9648, 9712, 9778, 9838]
more_6007 = [30, 90, 148, 202, 292, 358, 422, 488, 552, 618, 682, 748, 812, 878, 942, 1008, 1072, 1138, 1202, 1268,
             1332, 1398, 1462, 1522, 1606, 1672, 1738, 1802, 1868, 1932, 1998, 2062, 2128, 2192, 2258, 2322, 2388,
             2452, 2518, 2582, 2648, 2712, 2778, 2842, 2908, 2972, 3038, 3102, 3168, 3232, 3298, 3362, 3428, 3492,
             3558, 3622, 3688, 3752, 3818, 3882, 3948, 4012, 4078, 4142, 4208, 4272, 4348, 4446, 4512, 4578, 4642,
             4708, 4772, 4838, 4902, 4968, 5032, 5098, 5162, 5228, 5292, 5358, 5422, 5488, 5552, 5618, 5682, 5748,
             5812, 5878, 5942, 6008, 6072, 6138, 6202, 6268, 6332, 6398, 6462, 6528, 6592, 6658, 6722, 6788, 6852,
             6918, 6982, 7048, 7112, 7178, 7242, 7308, 7372, 7438, 7502, 7568, 7632, 7698, 7762, 7828, 7892, 7958,
             8022, 8088, 8152, 8218, 8288, 8398, 8462, 8528, 8592, 8658, 8722, 8788, 8852, 8918, 8982, 9048, 9112,
             9178, 9242, 9308, 9372, 9438, 9502, 9568, 9632, 9698, 9762, 9822, 9868]
more_6006 = [36, 90, 146, 222, 288, 352, 418, 482, 548, 612, 678, 742, 808, 872, 938, 1000, 1152, 1218, 1282, 1348,
             1412, 1478, 1542, 1608, 1672, 1738, 1802, 1980, 2048, 2112, 2178, 2236, 2312, 2378, 2442, 2508, 2572,
             2638, 2702, 2768, 2832, 2898, 2962, 3028, 3092, 3158, 3222, 3288, 3350, 3438, 3502, 3568, 3632, 3698,
             3762, 3828, 3966, 4032, 4098, 4162, 4228, 4292, 4358, 4422, 4498, 4616, 4682, 4748, 4812, 4878, 4942,
             5008, 5082, 5200, 5268, 5332, 5408, 5506, 5572, 5638, 5702, 5838, 5902, 5968, 6032, 6098, 6162, 6228,
             6292, 6358, 6422, 6626, 6692, 6758, 6822, 6888, 6952, 7018, 7088, 7178, 7242, 7308, 7372, 7438, 7502,
             7568, 7632, 7698, 7762, 7828, 7892, 7958, 8022, 8088, 8152, 8218, 8282, 8360, 8470, 8538, 8602, 8668,
             8732, 8798, 8880, 8990, 9058, 9122, 9188, 9252, 9318, 9382, 9448, 9512, 9578, 9642, 9708, 9768]
more_6005 = [32, 98, 186, 252, 318, 382, 448, 530, 680, 752, 818, 890, 1044, 1084, 1125, 1175, 1312, 1378, 1442, 1508,
             1572, 1638, 1702, 1768, 1832, 1898, 1985, 2092, 2158, 2222, 2288, 2352, 2422, 2532, 2598, 2662, 2728,
             2792, 2858, 2922, 2988, 3052, 3118, 3182, 3248, 3312, 3378, 3442, 3508, 3572, 3638, 3702, 3768, 3832,
             3898, 3962, 4034, 4146, 4210, 4266, 4358, 4422, 4488, 4552, 4618, 4682, 4748, 4966, 5032, 5098, 5162,
             5228, 5292, 5358, 5422, 5488, 5552, 5618, 5682, 5748, 5820, 5946, 6012, 6084, 6186, 6252, 6318, 6382,
             6448, 6512, 6578, 6642, 6708, 6772, 6838, 6902, 6968, 7032, 7098, 7162, 7228, 7292, 7358, 7422, 7488,
             7552, 7618, 7682, 7748, 7812, 7878, 7942, 8008, 8072, 8138, 8204, 8350, 8418, 8482, 8548, 8612, 8678,
             8742, 8808, 8872, 8938, 9002, 9068, 9132, 9198, 9262, 9320, 9406, 9472, 9556, 9622, 9688, 9752, 9818]
more_6004 = [52, 118, 182, 248, 312, 378, 440, 495, 582, 648, 712, 778, 842, 908, 972, 1036, 1126, 1192, 1258, 1322,
             1388, 1452, 1518, 1582, 1648, 1706, 1795, 1862, 1928, 1992, 2058, 2120, 2175, 2262, 2328, 2392, 2458,
             2522, 2588, 2652, 2718, 2782, 2848, 2912, 2978, 3042, 3108, 3172, 3238, 3302, 3368, 3432, 3498, 3562,
             3628, 3692, 3758, 3822, 3888, 3952, 4028, 4155, 4222, 4288, 4352, 4418, 4482, 4548, 4612, 4678, 4742,
             4808, 4872, 4938, 5002, 5068, 5132, 5198, 5262, 5328, 5392, 5458, 5522, 5588, 5652, 5718, 5782, 5848,
             5912, 5978, 6042, 6108, 6172, 6238, 6302, 6368, 6430, 6486, 6586, 6652, 6718, 6782, 6848, 6912, 6978,
             7042, 7108, 7172, 7238, 7302, 7368, 7432, 7498, 7562, 7628, 7692, 7758, 7838, 7930, 7998, 8062, 8128,
             8192, 8258, 8322, 8388, 8452, 8518, 8582, 8648, 8712, 8778, 8842, 8908, 8972, 9038, 9102, 9168, 9232,
             9298, 9362, 9428, 9492, 9558, 9622, 9860]
more_6003 = [30, 122, 188, 252, 318, 382, 448, 512, 578, 678, 742, 808, 872, 938, 1002, 1068, 1132, 1198, 1262, 1328,
             1392, 1458, 1522, 1588, 1652, 1718, 1782, 1848, 1912, 1992, 2152, 2218, 2282, 2348, 2412, 2478, 2542,
             2608, 2672, 2742, 2836, 2902, 2968, 3036, 3136, 3202, 3268, 3324, 3406, 3472, 3538, 3602, 3668, 3732,
             3798, 3850, 3946, 4012, 4078, 4142, 4208, 4272, 4338, 4402, 4468, 4532, 4598, 4662, 4728, 4792, 4858,
             4922, 4988, 5052, 5118, 5182, 5248, 5312, 5378, 5442, 5508, 5582, 5674, 5742, 5808, 5872, 5938, 6002,
             6068, 6132, 6198, 6262, 6328, 6392, 6458, 6522, 6584, 6686, 6752, 6818, 6882, 6948, 7012, 7078, 7142,
             7208, 7272, 7338, 7402, 7468, 7532, 7598, 7662, 7728, 7792, 7858, 7922, 7988, 8110, 8178, 8242, 8308,
             8372, 8438, 8502, 8568, 8632, 8698, 8762, 8828, 8892, 8958, 9015, 9062, 9150, 9218, 9282, 9348, 9412,
             9478, 9542, 9608, 9672, 9738, 9800, 9848]
more_6002 = [28, 85, 142, 200, 260, 318, 375, 435, 492, 550, 610, 668, 725, 785, 842, 900, 960, 1018, 1075, 1135, 1192,
             1250, 1310, 1368, 1425, 1485, 1542, 1600, 1660, 1718, 1775, 1835, 1892, 1950, 2010, 2068, 2125, 2185,
             2242, 2300, 2360, 2418, 2475, 2535, 2592, 2650, 2710, 2768, 2825, 2885, 2942, 3000, 3060, 3118, 3175,
             3252, 3364, 3428, 3488, 3545, 3605, 3662, 3720, 3780, 3930, 3990, 4048, 4105, 4165, 4222, 4280, 4340,
             4398, 4455, 4515, 4572, 4630, 4690, 4748, 4805, 4865, 4922, 4980, 5040, 5098, 5155, 5215, 5272, 5330,
             5390, 5448, 5505, 5565, 5622, 5680, 5740, 5798, 5855, 5915, 5972, 6030, 6090, 6148, 6205, 6265, 6322,
             6380, 6440, 6498, 6555, 6615, 6672, 6730, 6790, 6848, 6905, 6965, 7022, 7080, 7140, 7198, 7255, 7315,
             7372, 7430, 7490, 7548, 7605, 7665, 7722, 7780, 7840, 7898, 7955, 8074, 8138, 8205, 8295, 8355, 8412,
             8470, 8530, 8588, 8645, 8705, 8762, 8820, 8880, 8938, 8995, 9055, 9112, 9170, 9230, 9288, 9345, 9405,
             9462, 9520, 9580, 9638, 9695, 9755, 9812, 9862]
more_6000 = [32, 98, 162, 228, 292, 358, 422, 500, 652, 718, 782, 848, 912, 1132, 1198, 1262, 1328, 1392, 1458, 1518,
             1615, 1682, 1748, 1812, 1880, 2072, 2132, 2198, 2332, 2398, 2462, 2528, 2592, 2658, 2722, 2788, 2852,
             2918, 2982, 3048, 3110, 3516, 3582, 3648, 3710, 4436, 4502, 4568, 4632, 4698, 4762, 4828, 4892, 4958,
             5022, 5278, 5342, 5408, 5466, 6006, 6072, 6138, 6202, 6268, 6332, 6388, 6466, 6522, 6652, 6718, 6782,
             6848, 6912, 6978, 7046, 7138, 7202, 7268, 7332, 7398, 7462, 7528, 7592, 7658, 7722, 7788, 7852, 7918,
             7982, 8048, 8112, 8178, 8242, 8308, 8372, 8438, 8502, 8568, 8632, 8698, 8762, 8828, 8892, 8958, 9022,
             9088, 9152, 9218, 9282, 9358, 9476, 9542, 9608, 9672, 9738, 9806]
more_5999 = [30, 222, 288, 350, 410, 510, 570, 712, 778, 925, 992, 1058, 1122, 1605, 1672, 1738, 1855, 1922, 1988, 2052,
             2118, 2182, 2248, 2312, 2712, 2778, 2845, 2995, 3062, 3128, 3192, 3262, 3606, 3672, 3738, 3802, 3868,
             3932, 4375, 4442, 4508, 4572, 4638, 4702, 4768, 4832, 4898, 4962, 5028, 5092, 5152, 5266, 5332, 5398,
             5462, 5528, 5592, 5815, 5882, 5948, 6012, 6196, 6262, 6328, 6392, 6572, 6638, 6702, 6768, 6832, 6898,
             6962, 7028, 7092, 7337, 7402, 7468, 7696, 7762, 7828, 7892, 7958, 8022, 8088, 8238, 8302, 8368, 8432,
             8498, 8562, 8628, 8692, 8758, 8822, 8888, 8952, 9018, 9082, 9530, 9598, 9662, 9728]
more_5998 = [112, 178, 242, 308, 372, 438, 646, 712, 778, 842, 908, 972, 1038, 1102, 1168, 1232, 1298, 1362, 1428, 1490,
             1566, 1632, 1698, 1762, 1828, 1892, 1958, 2022, 2186, 2252, 2318, 2832, 2898, 2962, 3028, 3092, 3885,
             3952, 4018, 4082, 4148, 4212, 4278, 4340, 4436, 4502, 4568, 4632, 4695, 4786, 4852, 4918, 4982, 5048,
             5112, 5178, 5242, 5308, 5372, 5438, 5502, 5568, 5786, 5852, 5918, 5982, 6048, 6112, 6178, 6242, 6308,
             6372, 6555, 6622, 6688, 6752, 6818, 6882, 8246, 8312, 8378, 8442, 8508, 8572, 8638, 8702, 8768, 8832,
             8898, 8962, 9028, 9092, 9158, 9222, 9288, 9352, 9418, 9482, 9548, 9612, 9678, 9742, 9808]

levels = {
    6033: adc_6033, 6026: adc_6026, 6025: adc_6025, 6024: adc_6024, 6023: adc_6023, 6022: adc_6022,
    6021: adc_6021, 6020: adc_6020, 6019: adc_6019, 6018: adc_6018, 6017: adc_6017, 6016: adc_6016,
    6015: adc_6015, 6014: adc_6014, 6013: adc_6013, 6012: adc_6012,
    6011: adc_6011 + more_6011, 6010: adc_6010 + more_6010, 6009: adc_6009 + more_6009,
    6008: adc_6008 + more_6008, 6007: adc_6007 + more_6007, 6006: adc_6006 + more_6006,
    6005: adc_6005 + more_6005, 6004: adc_6004 + more_6004, 6003: adc_6003 + more_6003,
    6002: adc_6002 + more_6002, 6001: adc_6001, 6000: adc_6000 + more_6000,
    5999: adc_5999 + more_5999, 5998: adc_5998 + more_5998,
    5997: adc_5997, 5996: adc_5996, 5995: adc_5995, 5994: adc_5994, 5993: adc_5993, 5992: adc_5992,
    5991: adc_5991, 5990: adc_5990, 5989: adc_5989, 5988: adc_5988, 5987: adc_5987, 5986: adc_5986,
    5985: adc_5985, 5984: adc_5984, 5983: adc_5983, 5979: adc_5979,
}

samples = []
counts = []
for level, xs in levels.items():
    samples.extend(xs)
    counts.extend([level] * len(xs))

fig = plt.figure(figsize=(10, 10))
plt.plot(samples, counts, 'k.', label='Samples\n$\\mu$ = 6005.17, $\\sigma$ = 6.27')
plt.xlim(-488, 10364)
plt.ylim(5976.3, 6035.75)
plt.title('Run 674, channel028, Pedestal')
plt.xlabel('Sample #')
plt.ylabel('ADC Counts')
plt.legend(loc='upper right')
plt.grid(True)
fig.subplots_adjust(left=0.081, right=0.985, top=0.965, bottom=0.058)
plt.savefig('out.png', dpi=100)
